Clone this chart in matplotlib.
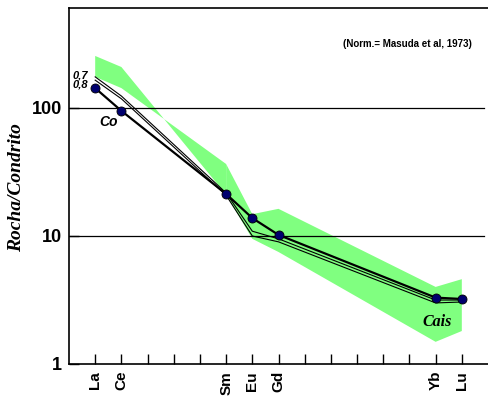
import matplotlib.pyplot as plt
import numpy as np

# REE positions La..Lu (15 slots), labelled ones only
ree_all = ['La', 'Ce', 'Pr', 'Nd', 'Pm', 'Sm', 'Eu', 'Gd', 'Tb', 'Dy', 'Ho', 'Er', 'Tm', 'Yb', 'Lu']
ree_shown = ['La', 'Ce', 'Sm', 'Eu', 'Gd', 'Yb', 'Lu']

# sample Co
co = [143, 95, 21.3, 13.8, 10.2, 3.3, 3.22]
# model curves
m07 = [175, 124, 21.7, 10.9, 9.5, 3.16, 3.16]
m08 = [165, 118, 20.8, 10.0, 9.0, 3.0, 3.05]
# Cais range (green field)
cais_hi = [255, 209, 36.5, 14.8, 16.3, 4.0, 4.6]
cais_lo = [175, 143, 21, 9.5, 7.5, 1.49, 1.81]

xs = np.array([ree_all.index(e) for e in ree_shown])
hi = np.array(cais_hi)
lo = np.array(cais_lo)

fig = plt.figure(figsize=(4.88, 3.96), dpi=100)
ax = fig.add_axes([69/488, 1-364/396, 1-69/488, (364-8)/396])

# La-Ce-Sm part of the field: the original outline crosses itself (bow tie)
ax.fill([xs[0], xs[1], xs[2], xs[2], xs[1], xs[0]],
        [hi[0], hi[1], lo[2], hi[2], lo[1], lo[0]],
        color='#80ff80', lw=0, zorder=1)
# Sm..Lu part
ax.fill(np.concatenate([xs[2:], xs[2:][::-1]]), np.concatenate([hi[2:], lo[2:][::-1]]),
        color='#80ff80', lw=0, zorder=1)

for yv in [10, 100]:
    ax.axhline(yv, xmax=0.99, color='black', lw=0.9, zorder=2)

ax.plot(xs, m07, color='black', lw=0.8, zorder=3)
ax.plot(xs, m08, color='black', lw=0.8, zorder=3)
ax.plot(xs, co, color='black', lw=1.6, zorder=4)
ax.plot(xs, co, 'o', ms=6.5, mfc='#00006e', mec='black', mew=0.6, zorder=5)

ax.set_yscale('log')
ax.set_ylim(1, 604)
ax.set_xlim(-1, 15)
ax.set_yticks([1, 10, 100])
ax.set_yticklabels(['1', '10', '100'], fontsize=13, fontweight='bold', family='Liberation Sans')
ax.minorticks_off()
ax.set_xticks(range(len(ree_all)))
ax.set_xticklabels([e if e in ree_shown else '' for e in ree_all], rotation=90,
                   fontsize=11, fontweight='bold', family='Liberation Sans')
ax.tick_params(axis='both', direction='in', length=7, width=1)
ax.tick_params(axis='x', pad=5)
ax.tick_params(axis='y', pad=5)
ax.spines['right'].set_visible(False)
for s in ['left', 'bottom', 'top']:
    ax.spines[s].set_linewidth(1.2)

ax.set_ylabel('Rocha/Condrito', family='Liberation Serif', style='italic', fontweight='bold',
              fontsize=14)
ax.yaxis.set_label_coords(-0.105, 0.497)

ax.text(0.808, 0.899, '(Norm.= Masuda et al, 1973)', transform=ax.transAxes, ha='center',
        va='center', fontsize=7, fontweight='bold', family='Liberation Sans')
ax.text(-0.55, 180, '0,7', fontsize=8, fontweight='bold', style='italic',
        family='Liberation Sans', ha='center', va='center')
ax.text(-0.55, 152, '0,8', fontsize=8, fontweight='bold', style='italic',
        family='Liberation Sans', ha='center', va='center')
ax.text(0.5, 78, 'Co', fontsize=10, fontweight='bold', style='italic',
        family='Liberation Sans', ha='center', va='center')
ax.text(13.05, 2.13, 'Cais', fontsize=11.5, fontweight='bold', style='italic',
        family='Liberation Serif', ha='center', va='center')

fig.savefig('out.png', dpi=100)
